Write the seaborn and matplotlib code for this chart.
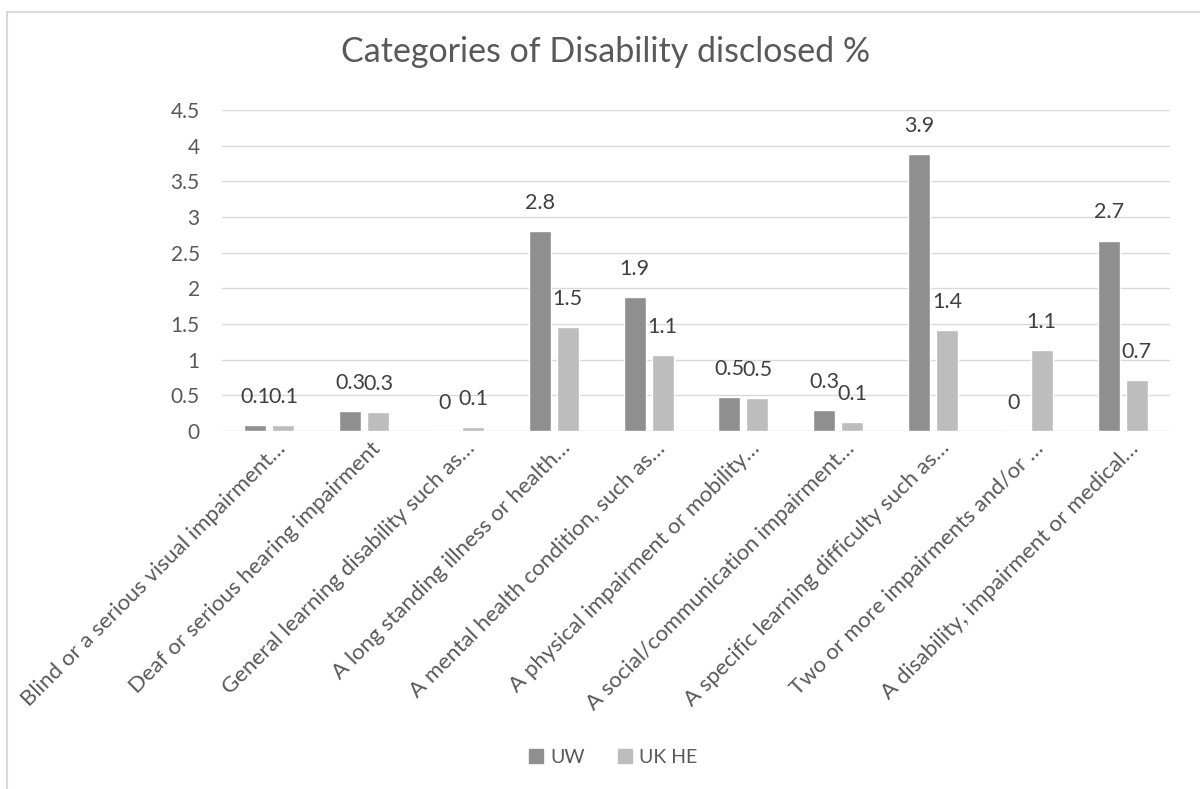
import matplotlib
matplotlib.use("Agg")
import matplotlib.pyplot as plt
import seaborn as sns
import pandas as pd
from matplotlib.lines import Line2D
from matplotlib.transforms import ScaledTranslation

categories = [
    "Blind or a serious visual impairment…",
    "Deaf or serious hearing impairment",
    "General learning disability such as…",
    "A long standing illness or health…",
    "A mental health condition, such as…",
    "A physical impairment or mobility…",
    "A social/communication impairment…",
    "A specific learning difficulty such as…",
    "Two or more impairments and/or …",
    "A disability, impairment or medical…",
]
uw = [0.08, 0.28, 0.0, 2.8, 1.88, 0.48, 0.29, 3.88, 0.0, 2.67]
ukhe = [0.08, 0.26, 0.05, 1.46, 1.06, 0.46, 0.12, 1.41, 1.13, 0.71]
series = ["UW", "UK HE"]
colors = ["#8f8f8f", "#bdbdbd"]
title = "Categories of Disability disclosed %"

df = pd.DataFrame({
    "category": categories * 2,
    "value": uw + ukhe,
    "series": [series[0]] * len(categories) + [series[1]] * len(categories),
})

sns.set_theme(style="white")
plt.rcParams["font.family"] = ["Lato", "DejaVu Sans"]
txt = "#595959"

fig = plt.figure(figsize=(12, 7.89), dpi=100)
ax = fig.add_axes([0.185, 0.4537, 0.79, 0.4069])

sns.barplot(data=df, x="category", y="value", hue="series", palette=colors,
            width=0.59, gap=0.21, ax=ax, legend=False, saturation=1)

ax.set_ylim(0, 4.5)
ax.set_xlim(-0.5, len(categories) - 0.5)
ax.set_yticks([i * 0.5 for i in range(10)])
ax.set_yticklabels(["0", "0.5", "1", "1.5", "2", "2.5", "3", "3.5", "4", "4.5"],
                   color=txt, fontsize=15)
ax.yaxis.grid(True, color="#d9d9d9", linewidth=1)
ax.set_axisbelow(True)
for s in ax.spines.values():
    s.set_visible(False)
ax.tick_params(axis="y", length=0, pad=16)
ax.tick_params(axis="x", length=0, pad=5)
ax.set_xlabel("")
ax.set_ylabel("")

ax.set_xticks(range(len(categories)))
ax.set_xticklabels(categories, rotation=45, ha="right", va="top", rotation_mode="anchor",
                   color=txt, fontsize=16)
shift = ScaledTranslation(6 / 100, 0, fig.dpi_scale_trans)
for lab in ax.get_xticklabels():
    lab.set_transform(lab.get_transform() + shift)

for cont in ax.containers:
    labels = ["0" if b.get_height() == 0 else f"{b.get_height():.1f}" for b in cont]
    ax.bar_label(cont, labels=labels, padding=13, color="#404040", fontsize=15.5)

fig.suptitle(title, x=0.505, y=0.955, fontsize=24.5, color=txt)

handles = [Line2D([], [], marker="s", linestyle="", markersize=10,
                  markerfacecolor=c, markeredgecolor=c) for c in colors]
fig.legend(handles, series, loc="center", bbox_to_anchor=(0.51, 0.040), ncol=2,
           frameon=False, fontsize=14, labelcolor=txt, handletextpad=0.2,
           columnspacing=1.6, handlelength=1.0)

fig.add_artist(Line2D([7 / 1200, 7 / 1200], [0, 1 - 12 / 789], color="#d9d9d9", linewidth=1.5))
fig.add_artist(Line2D([7 / 1200, 1], [1 - 12 / 789, 1 - 12 / 789], color="#d9d9d9", linewidth=1.5))

fig.savefig("out.png", dpi=100, facecolor="white")
